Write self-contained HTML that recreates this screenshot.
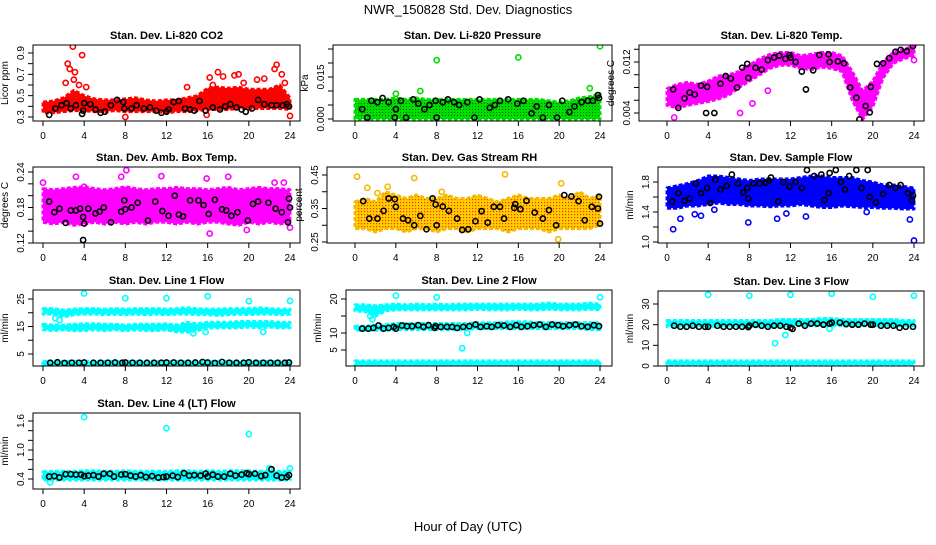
<!DOCTYPE html>
<html><head><meta charset="utf-8"><style>
body{margin:0;background:#fff;width:936px;height:540px;overflow:hidden}
svg text{font-family:"Liberation Sans",sans-serif}
</style></head><body>
<svg id="chart" width="936" height="540" xmlns="http://www.w3.org/2000/svg">
<defs>
<pattern id="pat-rh" width="3" height="3" patternUnits="userSpaceOnUse"><rect width="3" height="3" fill="#ffd000"/><rect x="1" y="1" width="1.2" height="1.2" fill="#ff3000"/></pattern>
<pattern id="pat-pr" width="3" height="3" patternUnits="userSpaceOnUse"><rect width="3" height="3" fill="#00dd00"/><rect x="1" y="1" width="1" height="1" fill="#006600"/></pattern>
</defs>
<text x="468" y="14" font-size="13" text-anchor="middle">NWR_150828  Std. Dev. Diagnostics</text>
<text x="468" y="531" font-size="13" text-anchor="middle">Hour of Day (UTC)</text>
</svg>
<script>
// ---- data ----
const hours25 = [0,1,2,3,4,5,6,7,8,9,10,11,12,13,14,15,16,17,18,19,20,21,22,23,24];
const xTicks = [0,4,8,12,16,20,24];
// CO2
const co2Lo = [0.34,0.34,0.35,0.36,0.36,0.35,0.35,0.36,0.35,0.35,0.35,0.35,0.34,0.35,0.35,0.36,0.37,0.37,0.37,0.38,0.38,0.38,0.38,0.38,0.37];
const co2Hi = [0.44,0.45,0.48,0.55,0.50,0.47,0.46,0.46,0.47,0.48,0.46,0.45,0.46,0.46,0.48,0.50,0.57,0.58,0.57,0.58,0.56,0.56,0.56,0.60,0.48];
const co2OutH = [2.4,2.6,2.9,3.1,3.0,2.2,3.5,3.8,4.2,8,14,15.9,16.2,17,17.5,18.6,19,20.8,21.5,22.5,22.7,23.2,23.5,24,16.5,19.5];
const co2OutV = [0.8,0.75,0.96,0.72,0.65,0.62,0.6,0.88,0.58,0.30,0.58,0.32,0.67,0.72,0.68,0.69,0.70,0.65,0.66,0.75,0.79,0.70,0.62,0.31,0.60,0.62];
const co2BlkH = [0.6,1.2,1.8,2.3,2.7,3.2,3.8,3.9,4,4.6,5.1,5.6,6,6.6,7.2,7.8,7.9,8.6,9.1,9.8,10.4,11,11.5,12,12.2,12.7,13.2,13.8,14.3,14.7,15.2,15.8,16.5,17.2,17.7,18.2,18.8,19.3,19.7,20.3,20.9,21.5,22.2,22.7,23.3,23.7,23.9];
const co2BlkV = [0.32,0.38,0.41,0.43,0.38,0.41,0.33,0.36,0.43,0.42,0.37,0.34,0.35,0.41,0.46,0.44,0.38,0.38,0.41,0.38,0.39,0.36,0.34,0.35,0.37,0.44,0.45,0.38,0.37,0.36,0.45,0.36,0.39,0.37,0.40,0.42,0.39,0.37,0.35,0.38,0.46,0.42,0.41,0.41,0.41,0.42,0.40];
// Pressure
const prLo = [0,0,0,0,0,0,0,0,0,0,0,0,0,0,0,0,0,0,0,0,0,0,0,0,0];
const prHi = [0.007,0.007,0.007,0.007,0.0075,0.007,0.0075,0.007,0.007,0.007,0.007,0.007,0.007,0.007,0.007,0.007,0.007,0.007,0.007,0.0065,0.006,0.0065,0.0075,0.008,0.009];
const prOutH = [8,16,24,4,6.4,23];
const prOutV = [0.021,0.022,0.026,0.009,0.010,0.011];
const prBlkH = [0.7,1.2,1.6,2.2,2.7,3.3,3.9,4,4.5,5,5.7,6.2,6.8,7.3,7.9,8,8.6,9.1,9.7,10.2,11,11.7,12.2,13.2,13.7,14.2,15,15.9,16.5,17.3,17.8,18.4,19,19.8,20.3,21,21.5,22.2,22.8,23.3,23.8,23.9];
const prBlkV = [0.0035,0.0005,0.0065,0.006,0.0075,0.006,0.0005,0.0035,0.0065,0.0005,0.007,0.0055,0.0035,0.005,0.0065,0.0005,0.006,0.007,0.006,0.005,0.006,0.0005,0.007,0.004,0.005,0.0065,0.007,0.0055,0.0065,0.002,0.0045,0.0005,0.005,0.0005,0.0065,0.0025,0.0045,0.006,0.0065,0.0065,0.0085,0.0075];
// Li-820 Temp
const tLo = [0.0052,0.0048,0.0052,0.0055,0.0058,0.0062,0.0068,0.0080,0.0090,0.0100,0.0110,0.0115,0.0115,0.0110,0.0108,0.0112,0.0110,0.0105,0.0060,0.0030,0.0050,0.0095,0.0118,0.0125,0.0130];
const tHi = [0.0078,0.0085,0.0088,0.0085,0.0090,0.0098,0.0100,0.0105,0.0115,0.0125,0.0132,0.0135,0.0135,0.0130,0.0132,0.0135,0.0135,0.0130,0.0105,0.0075,0.0090,0.0120,0.0135,0.0140,0.0145];
const tOutH = [0.7,1.6,5.3,7.1,8.3,9.8,18.8,23.5,24];
const tOutV = [0.0033,0.0020,0.0020,0.0040,0.0055,0.0075,0.0020,0.0160,0.0123];
const tBlkH = [0.6,1.1,1.7,2.2,2.7,3.3,3.9,3.8,4.6,5.2,5.7,6.2,6.8,7.3,7.8,7.9,8.6,9.2,9.8,10.4,10.9,11.5,12,11.9,12.5,13.1,13.5,14.2,14.8,15.7,15.8,16.6,17.2,17.8,18.4,18.7,19.3,19.7,19.8,20.4,21,21.6,22.2,22.7,23.3,23.9];
const tBlkV = [0.0077,0.0048,0.0063,0.0072,0.0069,0.0083,0.0081,0.0040,0.0040,0.0086,0.0098,0.0094,0.0080,0.0111,0.0117,0.0095,0.0111,0.0108,0.0123,0.0127,0.0130,0.0125,0.0127,0.0131,0.0120,0.0105,0.0077,0.0107,0.0131,0.0132,0.0120,0.0121,0.0118,0.0080,0.0064,0.0030,0.0051,0.0041,0.0081,0.0117,0.0118,0.0126,0.0136,0.0139,0.0137,0.0145];
// Amb box temp
const abLo = [0.155,0.152,0.155,0.150,0.152,0.155,0.152,0.155,0.152,0.155,0.152,0.155,0.155,0.152,0.155,0.152,0.155,0.155,0.152,0.150,0.155,0.152,0.155,0.152,0.155];
const abHi = [0.212,0.210,0.212,0.214,0.215,0.212,0.210,0.212,0.215,0.212,0.210,0.212,0.212,0.214,0.212,0.212,0.210,0.212,0.214,0.210,0.212,0.214,0.212,0.212,0.210];
const abOutH = [0,3.2,4,7.6,8.1,11.5,15.9,16.2,18,19.8,22.5,23.4,24];
const abOutV = [0.222,0.232,0.215,0.232,0.243,0.233,0.229,0.136,0.232,0.142,0.222,0.222,0.146];
const abBlkH = [0.6,1.1,1.6,2.2,2.7,3.2,3.6,3.9,4,3.9,4.4,5.1,5.5,5.9,6.6,7.6,7.9,8,8.6,9.2,10.2,10.9,11.6,12.2,12.8,13.2,13.6,14.3,15.1,15.6,16.1,16.7,17.4,17.8,18.3,18.9,19.9,20.4,20.9,21.9,22.6,23.2,23.8,23.9,24];
const abBlkV = [0.190,0.172,0.178,0.154,0.175,0.175,0.178,0.164,0.153,0.125,0.178,0.170,0.173,0.180,0.155,0.173,0.192,0.177,0.180,0.188,0.158,0.190,0.174,0.166,0.200,0.168,0.165,0.192,0.192,0.184,0.169,0.193,0.177,0.175,0.166,0.172,0.158,0.186,0.190,0.188,0.178,0.172,0.155,0.195,0.180];
// Gas stream RH
const rhLo = [0.29,0.29,0.28,0.29,0.29,0.28,0.29,0.29,0.28,0.29,0.29,0.28,0.29,0.29,0.29,0.28,0.29,0.29,0.29,0.28,0.29,0.29,0.29,0.29,0.30];
const rhHi = [0.37,0.38,0.37,0.40,0.39,0.38,0.39,0.38,0.38,0.39,0.38,0.38,0.39,0.38,0.37,0.38,0.39,0.38,0.38,0.38,0.39,0.38,0.40,0.38,0.39];
const rhOutH = [0.2,1.2,2.2,3.2,5.8,8.5,14.7,19.9,20.2];
const rhOutV = [0.445,0.412,0.396,0.415,0.441,0.400,0.452,0.258,0.425];
const rhBlkH = [0.8,1.4,2.2,2.8,3.3,3.9,4,4.7,5.2,5.8,6.4,7,7.6,7.9,8,8.6,9.2,10,10.5,11.1,11.8,12.4,13,13.6,14.2,14.6,15.6,15.7,16.2,16.8,17.6,18.4,19,19.7,20.5,21.2,21.9,22.5,23.2,23.8,23.9,24];
const rhBlkV = [0.372,0.320,0.320,0.343,0.380,0.378,0.355,0.320,0.315,0.300,0.328,0.288,0.380,0.362,0.300,0.356,0.343,0.320,0.286,0.288,0.312,0.342,0.308,0.355,0.355,0.320,0.352,0.363,0.348,0.373,0.338,0.320,0.345,0.300,0.390,0.386,0.372,0.315,0.355,0.350,0.385,0.305];
// Sample flow
const sfLo = [1.45,1.45,1.48,1.48,1.50,1.52,1.50,1.50,1.48,1.48,1.47,1.48,1.48,1.50,1.48,1.46,1.46,1.48,1.47,1.46,1.46,1.45,1.45,1.44,1.44];
const sfHi = [1.72,1.75,1.78,1.82,1.88,1.88,1.86,1.84,1.82,1.84,1.84,1.84,1.84,1.86,1.88,1.88,1.86,1.86,1.86,1.82,1.80,1.76,1.76,1.74,1.72];
const sfOutH = [0.6,1.3,2.7,3.3,4.6,7.9,10.7,11.6,13.5,19.4,23.6,24];
const sfOutV = [1.17,1.31,1.37,1.35,1.43,1.26,1.31,1.38,1.34,1.40,1.30,1.02];
const sfBlkH = [0.5,1.1,1.7,2.2,2.8,3.3,3.9,4.2,4.7,5.2,5.8,6.3,6.9,7.4,7.8,7.9,8.4,9,9.6,9.9,10.1,10.8,11.3,11.9,12.5,13.1,13.6,14.3,15,15.3,15.7,15.8,16.4,16.9,17.3,17.7,18.4,18.9,19.5,19.7,20.3,21,21.6,22.2,22.7,23.4,23.9,23.8];
const sfBlkV = [1.54,1.65,1.55,1.58,1.78,1.65,1.72,1.52,1.83,1.70,1.75,1.90,1.78,1.66,1.72,1.58,1.78,1.78,1.79,1.82,1.86,1.54,1.80,1.74,1.80,1.72,1.96,1.88,1.90,1.56,1.65,1.92,1.96,1.80,1.70,1.88,1.96,1.72,1.96,1.60,1.53,1.64,1.76,1.72,1.76,1.65,1.62,1.55];
// Line 1 flow
const l1aLo = [19.5,19.5,18.5,19.3,19.5,19.5,19.3,19.5,19.3,19.5,19.3,19.5,19.3,19.5,19.5,19.3,19.3,19.0,19.3,19.5,19.3,19.5,19.5,19.3,19.5];
const l1aHi = [21.5,21.5,21.0,21.3,21.5,21.5,21.3,21.5,21.3,21.5,21.5,21.5,21.3,21.5,21.8,21.5,21.3,21.3,21.5,21.5,21.5,21.8,21.5,21.3,21.3];
const l1bLo = [13.8,13.5,13.8,13.5,13.5,13.8,13.5,13.8,13.5,13.8,13.5,13.5,13.8,13.0,13.0,13.5,14.5,14.5,14.5,14.5,14.8,14.5,14.8,14.5,14.5];
const l1bHi = [15.8,15.5,15.5,15.8,16.0,16.0,15.8,15.8,15.5,15.8,15.8,15.8,16.0,15.5,16.5,16.0,16.5,16.5,16.5,16.8,16.8,16.8,16.8,16.5,16.5];
const l1cLo = [0.8,0.8,0.8,0.8,0.8,0.8,0.8,0.8,0.8,0.8,0.8,0.8,0.8,0.8,0.8,0.8,0.8,0.8,0.8,0.8,0.8,0.8,0.8,0.8,0.8];
const l1cHi = [2.3,2.3,2.3,2.3,2.3,2.3,2.3,2.3,2.3,2.3,2.3,2.3,2.3,2.3,2.3,2.3,2.3,2.3,2.3,2.3,2.3,2.3,2.3,2.3,2.3];
const l1OutH = [4,8,12,16,20,24,1.2,1.6,14.6,15.8,21.4];
const l1OutV = [27,25.3,25.3,26,24.2,24.3,18,17.3,12.5,13,13];
const l1BlkH = [0.7,1.4,2.1,2.8,3.5,4,4.9,5.6,6.3,7,7.7,8,8.7,9.4,10.1,10.8,11.5,12,12.7,13.4,14.1,14.8,15.5,16,16.7,17.4,18.1,18.8,19.5,20,20.7,21.4,22.1,22.8,23.5,23.9];
const l1BlkV = [1.8,2,1.7,1.8,1.8,1.9,1.8,1.8,1.8,1.9,1.8,1.9,1.8,1.8,1.8,1.8,1.8,1.9,1.9,1.8,1.8,1.9,2.1,1.9,1.7,2.1,1.8,1.8,1.8,2.0,1.8,1.8,1.8,1.8,1.8,1.9];
// Line 2 flow
const l2aLo = [16.5,16.3,15.0,16.5,16.8,16.8,16.8,16.8,16.8,16.8,16.8,16.8,17.0,16.8,16.8,16.8,17.0,16.8,16.8,17.0,16.8,16.8,16.8,17.0,16.8];
const l2aHi = [18.3,18.3,18.0,18.3,18.5,18.3,18.5,18.3,18.5,18.3,18.5,18.5,18.5,18.5,18.5,18.5,18.5,18.5,18.5,18.8,18.5,18.5,18.5,18.8,18.5];
const l2bLo = [10.8,10.8,10.8,10.8,11.0,11.0,11.0,11.0,11.0,11.0,11.0,11.0,11.3,11.3,11.3,11.3,11.3,11.3,11.3,11.3,11.3,11.3,11.3,11.0,11.0];
const l2bHi = [12.0,12.0,12.3,12.5,12.8,12.8,12.8,12.8,12.8,12.8,12.8,12.8,13.0,13.0,13.0,13.3,13.3,13.3,13.0,13.0,13.0,13.0,13.0,13.0,13.0];
const l2cLo = [0.5,0.5,0.5,0.5,0.5,0.5,0.5,0.5,0.5,0.5,0.5,0.5,0.5,0.5,0.5,0.5,0.5,0.5,0.5,0.5,0.5,0.5,0.5,0.5,0.5];
const l2cHi = [1.8,1.8,1.8,1.8,1.8,1.8,1.8,1.8,1.8,1.8,1.8,1.8,1.8,1.8,1.8,1.8,1.8,1.8,1.8,1.8,1.8,1.8,1.8,1.8,1.8];
const l2OutH = [4,8,24,10.5,11,1.5,1.7];
const l2OutV = [21,20.5,20.5,5.5,10,15,14];
const l2BlkH = [0.7,1.3,1.8,2.3,2.8,3.3,3.8,4,4.6,5.1,5.6,6.2,6.7,7.2,7.8,7.9,8.4,9,9.5,10,10.6,11.2,11.8,12.3,12.9,13.4,14,14.6,15.2,15.8,16.3,16.9,17.5,18.1,18.7,19.3,19.9,20.4,21,21.6,22.2,22.8,23.4,23.9];
const l2BlkV = [11.3,11.3,11.5,12.2,11.3,11.5,11.8,11.3,12.2,12.0,12.0,12.3,11.8,12.3,11.5,12.0,11.8,11.8,11.8,11.5,11.8,12.0,12.5,11.8,12.0,11.8,12.3,12.2,11.8,12.3,11.8,12.0,12.3,12.5,11.8,12.5,12.3,12.0,12.3,12.5,12.0,11.8,12.3,12.0];
// Line 3 flow
const l3aLo = [19.0,19.0,19.0,19.0,19.0,19.0,19.0,19.0,19.0,19.0,19.0,19.5,19.5,19.5,19.5,19.5,19.5,19.5,19.5,19.5,19.5,19.5,19.5,19.5,19.5];
const l3aHi = [22.0,22.0,22.0,22.0,22.0,22.0,22.0,22.0,22.0,22.0,22.0,22.5,22.5,22.5,22.5,23.0,23.0,22.5,22.5,22.5,22.5,22.5,22.5,22.0,22.0];
const l3bLo = [0.5,0.5,0.5,0.5,0.5,0.5,0.5,0.5,0.5,0.5,0.5,0.5,0.5,0.5,0.5,0.5,0.5,0.5,0.5,0.5,0.5,0.5,0.5,0.5,0.5];
const l3bHi = [2.5,2.5,2.5,2.5,2.5,2.5,2.5,2.5,2.5,2.5,2.5,2.5,2.5,2.5,2.5,2.5,2.5,2.5,2.5,2.5,2.5,2.5,2.5,2.5,2.5];
const l3OutH = [4,8,12,16,20,24,10.5,11.5,15.8];
const l3OutV = [34.5,34,34.5,35,33.5,34,11,15,18];
const l3BlkH = [0.7,1.3,1.9,2.5,3.1,3.7,4,4.9,5.5,6.1,6.7,7.3,7.9,8,8.6,9.2,9.8,10.4,11,11.6,12,12.2,12.8,13.4,14,14.6,15.2,15.8,16,16.8,17.4,18,18.6,19.2,19.8,20,20.8,21.4,22,22.6,23.2,23.9];
const l3BlkV = [19.5,19,19,19.5,19,19,19,19.5,19,19,19,19,18.8,19.5,20,19.5,19,19.5,19.5,19,18.5,18,20.5,19.5,20.5,20.5,20,20.5,21,21,20.3,20,20,20.5,20,20,19.5,19.5,19.5,18.5,19,19];
// Line 4 flow
const l4Lo = [0.38,0.38,0.38,0.38,0.38,0.38,0.38,0.38,0.38,0.38,0.38,0.38,0.38,0.38,0.38,0.38,0.38,0.38,0.38,0.38,0.38,0.38,0.38,0.38,0.38];
const l4Hi = [0.55,0.56,0.56,0.56,0.57,0.57,0.56,0.56,0.57,0.56,0.56,0.56,0.56,0.57,0.57,0.56,0.57,0.56,0.57,0.57,0.57,0.56,0.57,0.56,0.56];
const l4OutH = [4,12,20,24,0.7,22];
const l4OutV = [1.68,1.45,1.33,0.62,0.33,0.62];
const l4BlkH = [0.6,1.1,1.6,2.2,2.7,3.2,3.7,4,4.4,4.9,5.4,5.9,6.5,6.9,7.6,8,8.5,9,9.5,10,10.6,11.2,11.7,12,12.6,13.1,13.7,14.2,14.7,15.3,15.8,16,16.5,17,17.6,18.2,18.7,19.3,19.8,20,20.6,21.2,21.6,22.2,22.7,23.2,23.7,23.9];
const l4BlkV = [0.45,0.46,0.43,0.50,0.50,0.49,0.49,0.46,0.47,0.48,0.45,0.51,0.51,0.45,0.49,0.50,0.47,0.45,0.48,0.44,0.46,0.43,0.44,0.45,0.47,0.44,0.52,0.47,0.48,0.47,0.51,0.45,0.49,0.45,0.45,0.51,0.47,0.49,0.52,0.50,0.51,0.46,0.48,0.60,0.47,0.43,0.44,0.48];

// ---- panel definitions ----
const panels = [
 {name:'co2',title:'Stan. Dev. Li-820 CO2',ylab:'Licor ppm',box:[33,45,300,121],xp:[43,290],ym:[0.3,117,0.9,53],ticks:[0.3,0.4,0.5,0.6,0.7,0.8,0.9],labs:['0.3','','0.5','','0.7','','0.9'],col:'#ff0000',fill:'#ff0000',bands:[[co2Lo,co2Hi]],oh:co2OutH,ov:co2OutV,bh:co2BlkH,bv:co2BlkV},
 {name:'pressure',title:'Stan. Dev. Li-820 Pressure',ylab:'kPa',box:[333,45,612,121],xp:[355,600],ym:[0,119,0.015,77],ticks:[0,0.005,0.01,0.015,0.02,0.025],labs:['0.000','','','0.015','',''],col:'#00dd00',fill:'url(#pat-pr)',bands:[[prLo,prHi]],oh:prOutH,ov:prOutV,bh:prBlkH,bv:prBlkV},
 {name:'li820-temp',title:'Stan. Dev. Li-820 Temp.',ylab:'degrees C',box:[639,45,924,121],xp:[667,914],ym:[0.004,113,0.012,62],ticks:[0.004,0.006,0.008,0.01,0.012,0.014],labs:['0.004','','','','0.012',''],col:'#ff00ff',fill:'#ff00ff',bands:[[tLo,tHi]],oh:tOutH,ov:tOutV,bh:tBlkH,bv:tBlkV},
 {name:'amb-box-temp',title:'Stan. Dev. Amb. Box Temp.',ylab:'degrees C',box:[33,167,300,243],xp:[43,290],ym:[0.12,243,0.24,172],ticks:[0.12,0.14,0.16,0.18,0.2,0.22,0.24],labs:['0.12','','','0.18','','','0.24'],col:'#ff00ff',fill:'#ff00ff',bands:[[abLo,abHi]],oh:abOutH,ov:abOutV,bh:abBlkH,bv:abBlkV},
 {name:'gas-rh',title:'Stan. Dev. Gas Stream RH',ylab:'percent',box:[327,167,612,243],xp:[355,600],ym:[0.25,242,0.45,175],ticks:[0.25,0.3,0.35,0.4,0.45],labs:['0.25','','0.35','','0.45'],col:'#f5b800',fill:'url(#pat-rh)',bands:[[rhLo,rhHi]],oh:rhOutH,ov:rhOutV,bh:rhBlkH,bv:rhBlkV},
 {name:'sample-flow',title:'Stan. Dev. Sample Flow',ylab:'ml/min',box:[658,167,924,243],xp:[667,914],ym:[1.0,242,1.8,182],ticks:[1.0,1.2,1.4,1.6,1.8],labs:['1.0','','1.4','','1.8'],col:'#0000ff',fill:'#0000ff',bands:[[sfLo,sfHi]],oh:sfOutH,ov:sfOutV,bh:sfBlkH,bv:sfBlkV},
 {name:'line1-flow',title:'Stan. Dev. Line 1 Flow',ylab:'ml/min',box:[33,290,300,366],xp:[43,290],ym:[5,354,25,299],ticks:[5,10,15,20,25],labs:['5','','15','','25'],col:'#00ffff',fill:'#00ffff',bands:[[l1aLo,l1aHi],[l1bLo,l1bHi],[l1cLo,l1cHi]],oh:l1OutH,ov:l1OutV,bh:l1BlkH,bv:l1BlkV},
 {name:'line2-flow',title:'Stan. Dev. Line 2 Flow',ylab:'ml/min',box:[346,290,612,366],xp:[355,600],ym:[5,350,20,299],ticks:[5,10,15,20],labs:['5','10','','20'],col:'#00ffff',fill:'#00ffff',bands:[[l2aLo,l2aHi],[l2bLo,l2bHi],[l2cLo,l2cHi]],oh:l2OutH,ov:l2OutV,bh:l2BlkH,bv:l2BlkV},
 {name:'line3-flow',title:'Stan. Dev. Line 3 Flow',ylab:'ml/min',box:[658,291,924,366],xp:[667,914],ym:[0,366,30,304],ticks:[0,10,20,30],labs:['0','10','20','30'],col:'#00ffff',fill:'#00ffff',bands:[[l3aLo,l3aHi],[l3bLo,l3bHi]],oh:l3OutH,ov:l3OutV,bh:l3BlkH,bv:l3BlkV},
 {name:'line4-flow',title:'Stan. Dev. Line 4 (LT) Flow',ylab:'ml/min',box:[33,413,300,489],xp:[43,290],ym:[0.4,479,1.6,421],ticks:[0.4,0.6,0.8,1.0,1.2,1.4,1.6],labs:['0.4','','','1.0','','','1.6'],col:'#00ffff',fill:'#00ffff',bands:[[l4Lo,l4Hi]],oh:l4OutH,ov:l4OutV,bh:l4BlkH,bv:l4BlkV}
];

const NS='http://www.w3.org/2000/svg';
const svg=document.getElementById('chart');
function mk(tag,attrs,parent){const e=document.createElementNS(NS,tag);for(const k in attrs)e.setAttribute(k,attrs[k]);(parent||svg).appendChild(e);return e;}

panels.forEach(p=>{
  const [L,T,R,B]=p.box;
  const xs=h=>p.xp[0]+(p.xp[1]-p.xp[0])*h/24;
  const ys=v=>p.ym[1]+(v-p.ym[0])*(p.ym[3]-p.ym[1])/(p.ym[2]-p.ym[0]);
  const g=mk('g',{});
  
  
  const clipId='clip-'+p.name;
  const cp=mk('clipPath',{id:clipId},g);
  mk('rect',{x:L,y:T,width:R-L,height:B-T},cp);
  const plot=mk('g',{'clip-path':'url(#'+clipId+')'},g);
  p.bands.forEach((bd,bi)=>{
    const lo=bd[0],hi=bd[1];
    let pts=hours25.map((h,i)=>xs(h)+','+ys(hi[i]));
    pts=pts.concat(hours25.slice().reverse().map((h,j)=>xs(h)+','+ys(lo[24-j])));
    const poly=mk('polygon',{points:pts.join(' '),fill:p.fill,stroke:p.col,'stroke-width':3,'stroke-linejoin':'round','stroke-dasharray':'4 2'},plot);
    
    
  });
  p.oh.forEach((h,i)=>{
    const c=mk('circle',{cx:xs(h),cy:ys(p.ov[i]),r:2.6,fill:'none',stroke:p.col,'stroke-width':1.6},plot);
    
    
  });
  p.bh.forEach((h,i)=>{
    const c=mk('circle',{cx:xs(h),cy:ys(p.bv[i]),r:2.6,fill:'none',stroke:'#000','stroke-width':1.6},plot);
    
    
  });
  const frame=mk('rect',{x:L,y:T,width:R-L,height:B-T,fill:'none',stroke:'#000','stroke-width':1},g);
  
  
  const tt=mk('text',{x:(L+R)/2,y:T-6,'font-size':11,'font-weight':'bold','text-anchor':'middle'},g);
  tt.textContent=p.title;
  
  
  xTicks.forEach(h=>{
    mk('line',{x1:xs(h),x2:xs(h),y1:B,y2:B+5,stroke:'#000'},g);
    const t=mk('text',{x:xs(h),y:B+18,'font-size':10,'text-anchor':'middle'},g);
    t.textContent=h;
    
    
  });
  p.ticks.forEach((v,i)=>{
    mk('line',{x1:L-5,x2:L,y1:ys(v),y2:ys(v),stroke:'#000'},g);
    if(p.labs[i]){
      const t=mk('text',{x:0,y:0,'font-size':10,'text-anchor':'middle',transform:'translate('+(L-9)+','+ys(v)+') rotate(-90)'},g);
      t.textContent=p.labs[i];
      
      
    }
  });
  const yl=mk('text',{x:0,y:0,'font-size':10,'text-anchor':'middle',transform:'translate('+(L-25)+','+((T+B)/2)+') rotate(-90)'},g);
  yl.textContent=p.ylab;
  
  
});
</script>
</body></html>
